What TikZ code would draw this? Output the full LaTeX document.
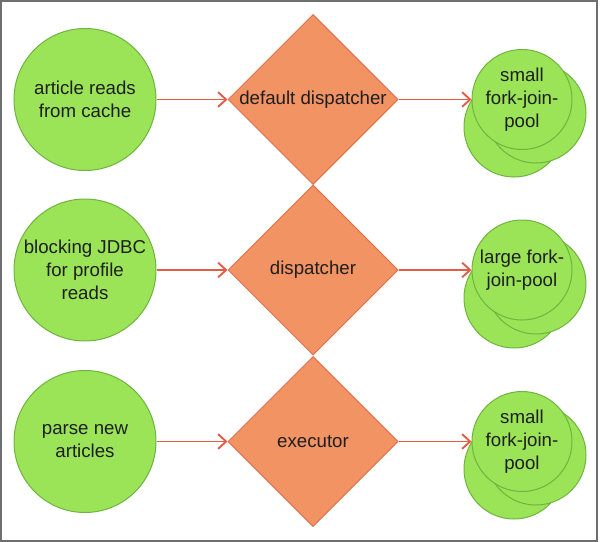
\documentclass[tikz,border=0pt]{standalone}
\usepackage{fontspec}
\setmainfont{Liberation Sans}
\usetikzlibrary{shapes.geometric,arrows.meta}
\definecolor{cfill}{RGB}{155,228,88}
\definecolor{cline}{RGB}{110,180,62}
\definecolor{dfill}{RGB}{242,147,100}
\definecolor{dline}{RGB}{228,112,78}
\definecolor{aline}{RGB}{228,92,66}
\definecolor{ctext}{RGB}{30,30,30}
\definecolor{framecol}{RGB}{110,110,110}
\begin{document}
\begin{tikzpicture}[x=0.75pt,y=-0.75pt,
  lbl/.style={font=\fontsize{14}{17.25}\selectfont,text=ctext,align=center},
  task/.style={lbl,circle,draw=cline,fill=cfill,line width=0.75pt,minimum size=106.5pt,inner sep=0pt},
  disp/.style={lbl,diamond,aspect=1,draw=dline,fill=dfill,line width=0.75pt,minimum width=127.5pt,minimum height=127.5pt,inner sep=0pt},
  pool/.style={lbl,circle,draw=cline,fill=cfill,line width=0.75pt,minimum size=75pt,inner sep=0pt},
  flow/.style={draw=aline,line width=0.9pt,-{Straight Barb[length=6pt,width=11pt,line width=1.4pt]}}]
\useasboundingbox (0,0) rectangle (600,542);
\draw[framecol,line width=1.5pt] (1,1) rectangle (597,541);

% row 1
\node[task] (t1) at (85,99.5) {article reads\\from cache};
\node[disp] (d1) at (313,99.5) {default dispatcher};
\node[pool] (p1c) at (514,127) {};
\node[pool] (p1b) at (536,113) {};
\node[pool] (p1a) at (522,99.5) {small\\fork-join-\\pool};
% row 2
\node[task] (t2) at (85,270) {blocking JDBC\\for profile\\reads};
\node[disp] (d2) at (313,270) {dispatcher};
\node[pool] (p2c) at (514,298) {};
\node[pool] (p2b) at (536,284) {};
\node[pool] (p2a) at (522,270) {large fork-\\join-pool};
% row 3
\node[task] (t3) at (85,441.5) {parse new\\articles};
\node[disp] (d3) at (313,441.5) {executor};
\node[pool] (p3c) at (514,469) {};
\node[pool] (p3b) at (536,455) {};
\node[pool] (p3a) at (522,441.5) {small\\fork-join-\\pool};

\draw[flow] (t1) -- (d1);
\draw[flow] (d1) -- (p1a);
\draw[flow] (t2) -- (d2);
\draw[flow] (d2) -- (p2a);
\draw[flow] (t3) -- (d3);
\draw[flow] (d3) -- (p3a);
\end{tikzpicture}
\end{document}
